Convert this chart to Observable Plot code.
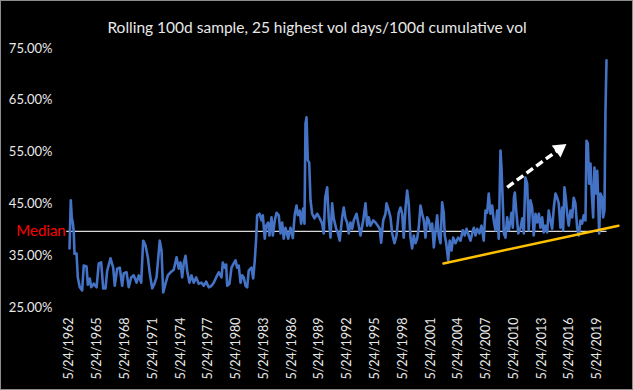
<!DOCTYPE html>
<html>
<head>
<meta charset="utf-8">
<script src="https://cdn.jsdelivr.net/npm/d3@7"></script>
<script src="https://cdn.jsdelivr.net/npm/@observablehq/plot@0.6"></script>
<style>
  html, body { margin: 0; padding: 0; background: #000; }
  #chart svg { display: block; outline: 1px solid #8c8c8c; outline-offset: -1px; }
</style>
</head>
<body>
<div id="chart"></div>
<script>
const title = "Rolling 100d sample, 25 highest vol days/100d cumulative vol";

// decimal years of the observations
const years = [
  1962.40,1962.54,1962.65,1962.76,1962.86,1962.94,1963.16,1963.30,1963.51,1963.77,1963.94,1964.24,1964.38,1964.59,1964.74,1965.02,1965.32,1965.56,1965.82,1966.04,1966.29,1966.47,1966.83,1967.12,1967.29,1967.55,1967.83,1968.09,1968.26,1968.56,1968.80,1969.06,1969.34,1969.64,1969.88,1970.14,1970.36,1970.61,1970.86,1971.07,1971.33,1971.58,1971.80,1972.15,1972.34,1972.52,1972.77,1973.02,1973.31,1973.66,1973.96,1974.20,
  1974.39,1974.57,1974.74,1974.93,1975.11,1975.36,1975.58,1975.82,1976.08,1976.36,1976.66,1976.90,1977.16,1977.44,1977.74,1977.98,1978.24,1978.52,1978.82,1978.96,1979.17,1979.32,1979.43,1979.68,1979.90,1980.14,1980.33,1980.51,1980.68,1980.87,1981.05,1981.22,1981.41,1981.59,1981.76,1982.06,1982.24,1982.41,1982.56,1982.67,1982.92,1983.14,1983.28,1983.49,1983.64,1983.86,1984.00,1984.22,1984.36,1984.57,1984.76,1985.00,1985.19,1985.37,1985.54,1985.73,1986.02,1986.27,1986.52,1986.73,
  1986.92,1987.06,1987.27,1987.42,1987.64,1987.78,1987.89,1988.00,1988.14,1988.29,1988.43,1988.61,1988.86,1989.15,1989.43,1989.69,1989.86,1990.02,1990.23,1990.40,1990.59,1990.77,1990.94,1991.20,1991.37,1991.59,1991.85,1992.02,1992.21,1992.39,1992.56,1992.75,1992.93,1993.10,1993.40,1993.64,1993.83,1994.12,1994.37,1994.55,1994.72,1994.91,1995.20,1995.45,1995.70,1995.91,1996.06,1996.28,1996.53,1996.64,1996.88,1997.07,1997.25,1997.50,1997.72,1997.96,1998.15,1998.33,1998.50,1998.69,1998.87,1999.04,1999.15,
  1999.23,1999.41,1999.58,1999.77,1999.95,2000.12,2000.31,2000.49,2000.67,2000.85,2001.03,2001.21,2001.39,2001.57,2001.75,2001.93,2002.11,2002.28,2002.47,2002.65,2002.82,2002.93,2003.08,2003.30,2003.47,2003.66,2003.84,2004.09,2004.38,2004.63,2004.88,2005.09,2005.28,2005.52,2005.71,2005.89,2006.07,2006.25,2006.43,2006.68,2006.90,2007.14,2007.33,2007.51,2007.68,2007.87,2008.05,2008.22,2008.41,2008.59,2008.76,2008.95,2009.06,2009.20,2009.31,2009.49,2009.67,2009.85,2010.03,2010.14,2010.28,2010.40,2010.50,2010.65,2010.87,2011.12,2011.30,2011.47,
  2011.64,2011.83,2012.00,2012.19,2012.37,2012.54,2012.73,2012.91,2013.09,2013.27,2013.45,2013.62,2013.81,2013.99,2014.16,2014.35,2014.53,2014.71,2014.89,2015.07,2015.24,2015.43,2015.61,2015.72,2015.86,2016.00,2016.15,2016.32,2016.51,2016.69,2016.86,2017.04,2017.23,2017.40,2017.59,2017.77,2017.94,2018.13,2018.24,2018.38,2018.53,2018.67,2018.81,2018.96,2019.10,2019.24,2019.40,2019.50,2019.61,2019.75,2019.93,2020.04,2020.18,2020.29,2020.40
];
// share of cumulative vol from the 25 highest vol days (percent)
const vals = [
  36.4,45.7,42.2,41.4,39.5,35.4,35.4,30.8,28.9,28.3,33.1,32.9,29.4,30.6,28.9,29.6,28.9,33.5,33.7,28.7,28.7,32.1,34.5,32.7,29.2,32.5,32.7,29.2,31.6,31.8,28.9,30.8,31.2,29.8,31.2,29.8,37.9,37.0,34.7,31.6,28.7,29.6,30.8,37.9,36.0,27.9,29.6,31.2,31.8,32.3,34.7,32.5,
  33.7,30.8,33.5,35.0,32.1,29.8,31.2,29.8,30.8,29.6,29.8,29.2,30.0,28.9,29.2,29.8,30.8,31.8,30.8,33.7,32.7,33.3,29.2,29.6,32.7,33.5,34.1,32.7,33.1,29.8,31.2,30.8,29.2,28.9,32.1,32.7,30.6,34.1,38.3,42.8,43.1,41.8,42.8,38.3,40.8,41.4,38.9,42.4,38.9,41.8,43.3,42.8,39.3,41.4,38.3,40.4,38.3,40.4,38.4,43.0,
  44.7,42.8,43.7,41.2,44.1,41.2,60.5,61.7,53.4,53.0,45.7,43.1,42.2,43.1,42.2,41.2,39.3,46.2,48.2,42.2,38.5,45.1,42.2,40.2,39.5,37.9,42.4,44.3,42.2,41.4,39.3,41.4,40.2,41.8,43.1,40.8,38.9,41.8,45.1,40.8,42.4,40.8,41.8,41.4,40.8,40.2,37.5,41.8,43.1,45.1,43.7,42.4,39.3,37.4,38.9,43.3,44.3,43.1,38.5,44.1,47.6,45.0,41.0,
  38.5,36.4,38.9,37.4,38.3,40.4,44.7,43.1,41.8,38.5,42.4,41.8,39.9,41.2,36.6,39.9,42.8,38.9,37.4,45.3,43.3,38.9,37.5,34.1,37.9,36.0,38.5,37.4,38.5,37.9,39.9,38.9,40.2,38.9,37.9,39.3,40.4,38.9,40.2,39.3,40.8,37.9,43.7,43.3,47.0,43.1,44.7,41.8,39.9,43.7,38.3,55.3,51.8,45.1,39.3,38.5,42.4,39.9,41.8,43.3,40.4,46.2,47.2,43.7,39.3,40.4,42.2,39.3,
  50.1,48.9,39.9,45.7,44.3,38.9,43.1,41.4,43.1,40.4,42.4,39.5,40.8,39.5,43.7,41.8,40.2,44.3,47.0,46.2,45.1,40.4,44.3,39.9,48.2,46.2,43.1,40.8,43.7,42.4,46.2,45.1,40.4,38.9,41.8,41.2,42.8,41.8,57.2,56.7,48.9,52.8,47.0,42.4,52.0,47.0,51.4,45.7,39.3,47.0,46.2,42.4,43.7,63.0,72.7
];

const medianValue = 39.7;
const medianYears = [1962.10, 2020.45];
const trendYears = [2002.79, 2021.69];
const trendVals = [33.5, 40.8];
const arrowYears = [2009.67, 2015.33];
const arrowVals = [48.2, 55.6];
const tickYears = [1962,1965,1968,1971,1974,1977,1980,1983,1986,1989,1992,1995,1998,2001,2004,2007,2010,2013,2016,2019];
const yTicks = [25, 35, 45, 55, 65, 75];

function toDate(y) {
  const yr = Math.floor(y);
  const a = Date.UTC(yr, 0, 1), b = Date.UTC(yr + 1, 0, 1);
  return new Date(a + (y - yr) * (b - a));
}

const data = years.map((y, i) => ({date: toDate(y), v: vals[i]})).filter((d, i) => vals[i] != null);
const trend = trendYears.map((y, i) => ({date: toDate(y), v: trendVals[i]}));
const tickDates = tickYears.map(y => new Date(Date.UTC(y, 4, 24)));
const fmtDate = d => `${d.getUTCMonth() + 1}/${d.getUTCDate()}/${d.getUTCFullYear()}`;
const txt = "#e8e8e8";

const chart = Plot.plot({
  width: 633,
  height: 390,
  marginLeft: 69,
  marginRight: 27,
  marginTop: 48,
  marginBottom: 83,
  style: {background: "#000", color: txt, fontFamily: "Lato, 'Open Sans', sans-serif"},
  x: {type: "utc", domain: [toDate(1962.4), toDate(2020.4)]},
  y: {domain: [25, 75]},
  marks: [
    Plot.axisY({ticks: yTicks, tickFormat: d => d.toFixed(2) + "%", tickSize: 0, tickPadding: 17, fontSize: 13, fill: txt, label: null}),
    Plot.axisX({ticks: tickDates, tickFormat: fmtDate, tickRotate: -90, tickSize: 0, tickPadding: 10, fontSize: 12.5, fill: txt, label: null}),
    Plot.ruleY([medianValue], {x1: toDate(medianYears[0]), x2: toDate(medianYears[1]), stroke: "#d9d9d9", strokeWidth: 1.2}),
    Plot.line(data, {x: "date", y: "v", stroke: "#4472c4", strokeWidth: 2.6, strokeLinejoin: "round"}),
    Plot.line(trend, {x: "date", y: "v", stroke: "#ffc000", strokeWidth: 2.5}),
    Plot.link([0], {x1: toDate(arrowYears[0]), y1: arrowVals[0], x2: toDate(arrowYears[1]), y2: arrowVals[1], stroke: "#fff", strokeWidth: 3.4, strokeDasharray: "8,4"}),
    Plot.dot([0], {x: toDate(arrowYears[1]), y: arrowVals[1], symbol: "triangle", r: 5.5, fill: "#fff", rotate: 53.6}),
    Plot.text(["Median"], {x: toDate(medianYears[0]), y: medianValue, textAnchor: "end", dx: -1, fill: "#ff0000", fontSize: 15}),
    Plot.text([title], {frameAnchor: "top", dx: -21, dy: -27, fontSize: 15.5, fill: txt})
  ]
});
document.getElementById("chart").appendChild(chart);
</script>
</body>
</html>
